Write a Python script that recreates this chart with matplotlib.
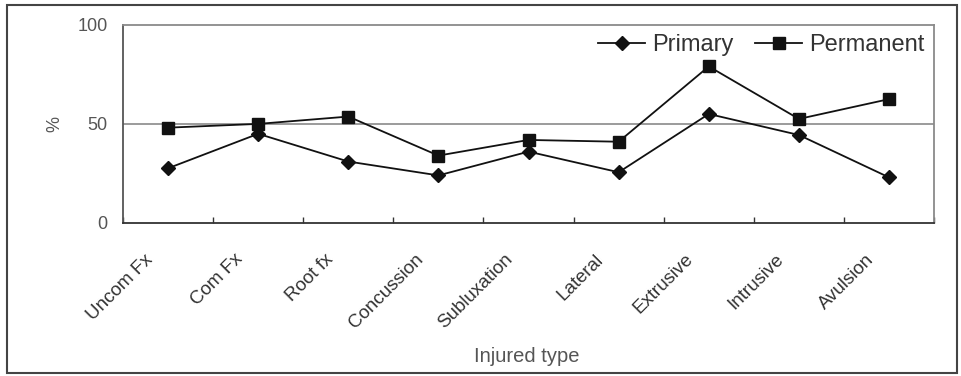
import matplotlib
matplotlib.use("Agg")
import matplotlib.pyplot as plt
import matplotlib.transforms as mtransforms
from matplotlib.patches import Rectangle

categories = ["Uncom Fx", "Com Fx", "Root fx", "Concussion", "Subluxation",
              "Lateral", "Extrusive", "Intrusive", "Avulsion"]
primary = [27.6, 45.0, 31.0, 24.0, 36.0, 25.6, 55.0, 44.4, 23.0]
permanent = [48.1, 50.0, 53.7, 34.0, 41.9, 41.0, 79.0, 52.5, 62.5]

plt.rcParams['font.family'] = ['Liberation Sans', 'DejaVu Sans']
text_col = "#555555"

fig = plt.figure(figsize=(9.61, 3.76), dpi=100)
ax = fig.add_axes([0.128, 0.407, 0.844, 0.527])

x = list(range(len(categories)))
ax.axhline(50, color="#8a8a8a", linewidth=1.2, zorder=1)
ax.plot(x, primary, color="#111111", linewidth=1.3, marker="D", markersize=7,
        label="Primary", zorder=3)
ax.plot(x, permanent, color="#111111", linewidth=1.3, marker="s", markersize=8,
        label="Permanent", zorder=3)

ax.set_xlim(-0.5, len(categories) - 0.5)
ax.set_ylim(0, 100)
ax.set_yticks([0, 50, 100])
ax.tick_params(axis="y", length=0, pad=11, labelsize=13, labelcolor=text_col)

ax.set_xticks(x)
ax.set_xticklabels(categories, rotation=45, ha="right", rotation_mode="anchor")
ax.tick_params(axis="x", which="major", length=0, pad=10, labelsize=13.5,
               labelcolor="#333333")
shift = mtransforms.ScaledTranslation(-24 / 100, -14 / 100, fig.dpi_scale_trans)
for lbl in ax.get_xticklabels():
    lbl.set_transform(lbl.get_transform() + shift)
ax.set_xticks([i - 0.5 for i in range(len(categories) + 1)], minor=True)
ax.tick_params(axis="x", which="minor", direction="in", length=4,
               color="#333333", width=1)

ax.spines["top"].set_color("#8a8a8a")
ax.spines["right"].set_color("#8a8a8a")
ax.spines["left"].set_color("#555555")
ax.spines["bottom"].set_color("#333333")
for s in ax.spines.values():
    s.set_linewidth(1.3)

fig.text(55 / 961, 1 - 124 / 376, "%", rotation=90, fontsize=13,
         color=text_col, ha="center", va="center")
fig.text(527 / 961, 1 - 357 / 376, "Injured type", fontsize=14.5,
         color=text_col, ha="center", va="center")

ax.legend(loc="upper right", ncol=2, frameon=False, fontsize=17,
          handlelength=2.0, handletextpad=0.3, columnspacing=0.9,
          borderaxespad=0.0, labelcolor="#333333")

fig.patches.append(Rectangle((7 / 961, 3 / 376), 950 / 961, 368 / 376,
                             transform=fig.transFigure, fill=False,
                             edgecolor="#444444", linewidth=1.5))

fig.savefig("out.png", dpi=100)
